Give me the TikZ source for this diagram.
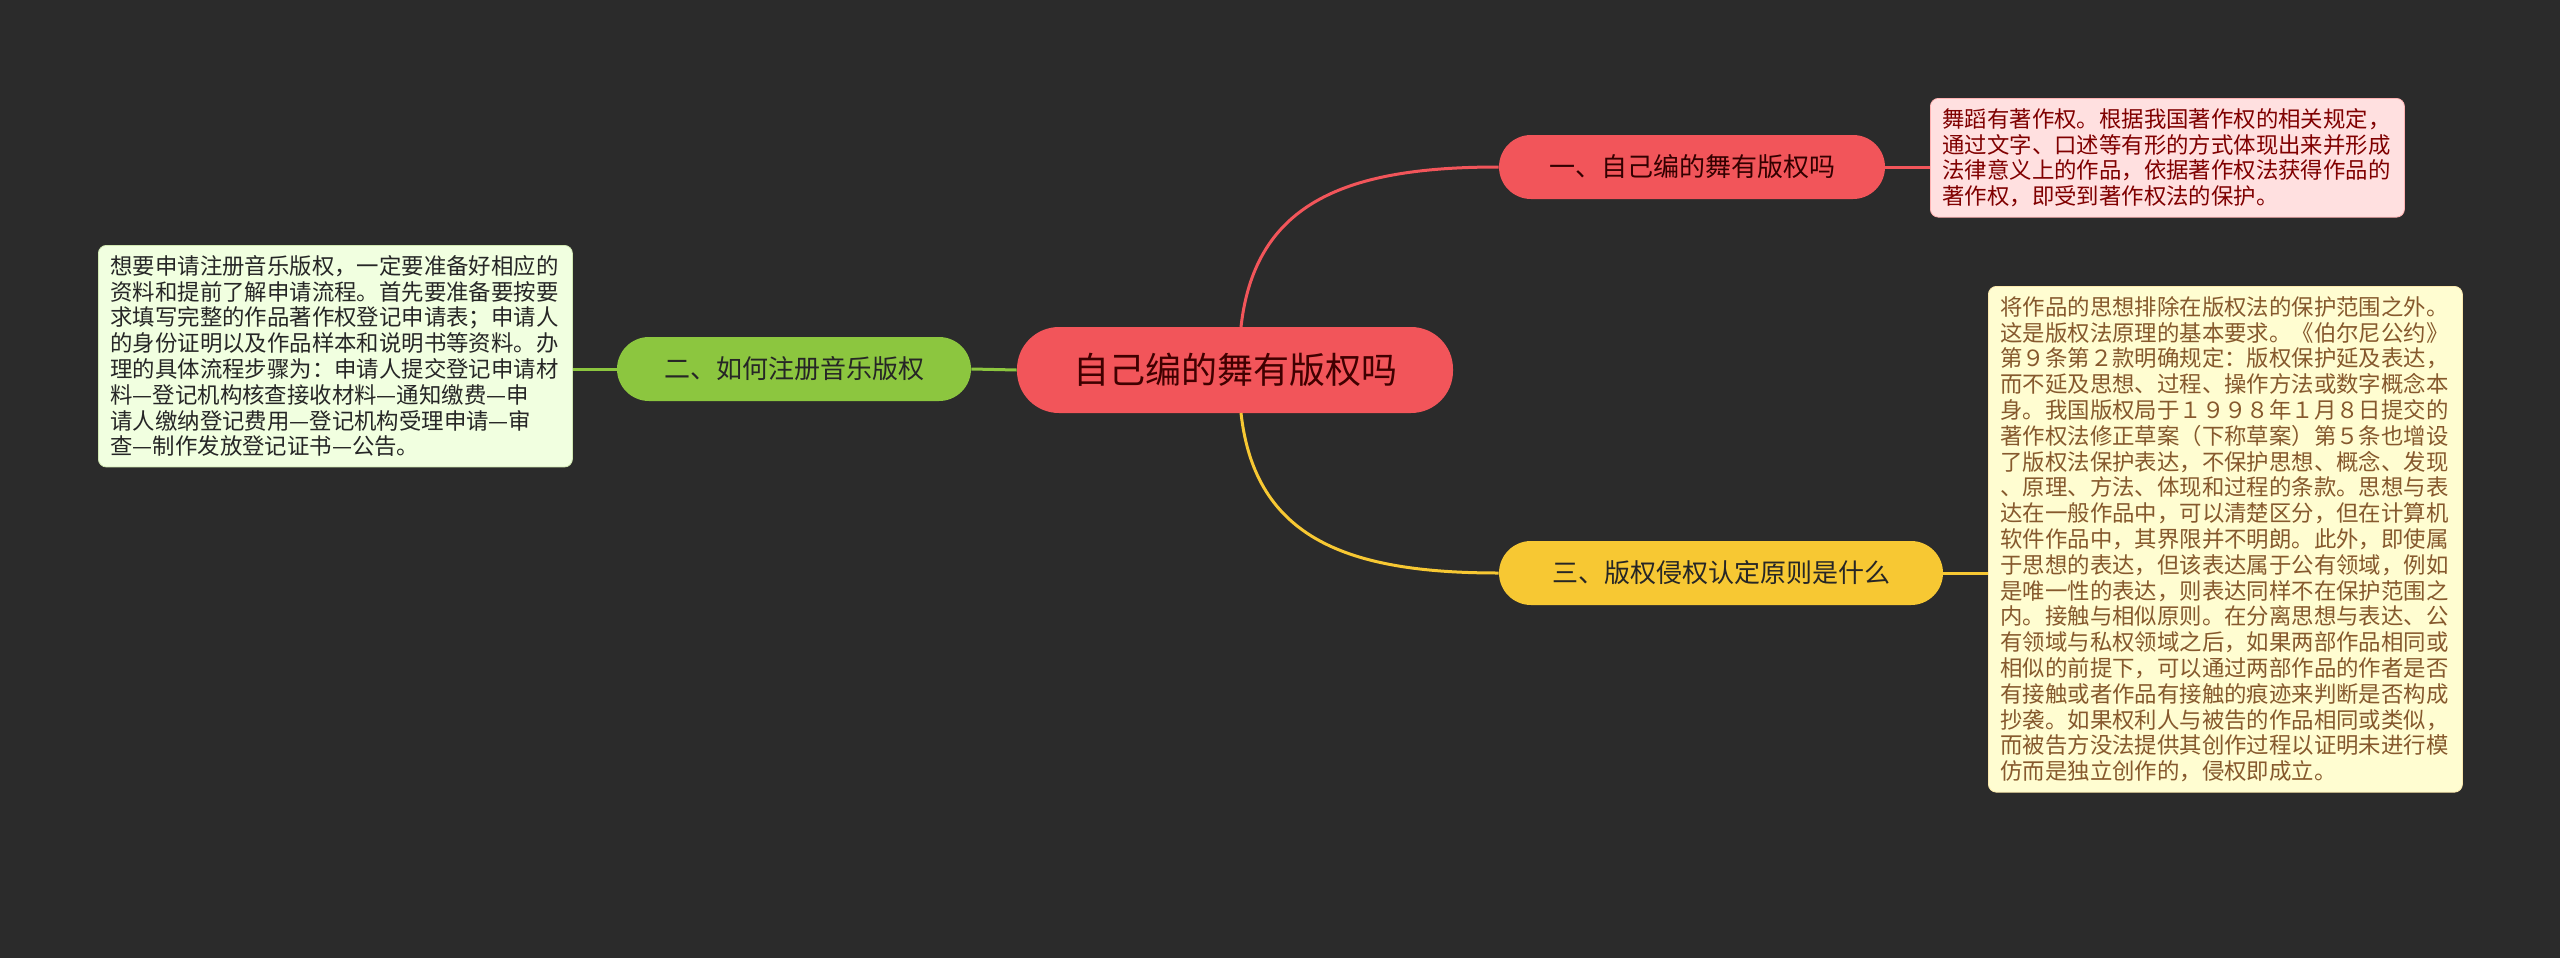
\documentclass[tikz,border=0pt]{standalone}
\usepackage{fontspec}
\setmainfont{Noto Sans CJK SC}
\begin{document}
\begin{tikzpicture}[x=0.5pt,y=-0.5pt,
  topic/.style={rounded corners=16pt,minimum height=32pt,inner xsep=12pt,font=\fontsize{13}{15}\selectfont},
  note/.style={rounded corners=4pt,align=left,inner xsep=6pt,inner ysep=5pt,font=\fontsize{11.2}{12.9}\selectfont,anchor=north west}]
\definecolor{bg}{HTML}{2B2B2B}
\definecolor{cred}{HTML}{F2555A}
\definecolor{cgreen}{HTML}{8CC63F}
\definecolor{cyel}{HTML}{F7C833}
\fill[bg] (0,0) rectangle (2560,958);
\node[fill=cred,rounded corners=21pt,minimum width=218pt,minimum height=43pt,font=\fontsize{18}{20}\selectfont,text=black!75!red] (c) at (1235,370) {自己编的舞有版权吗};
\node[topic,fill=cred,minimum width=193pt,text=black!80!red] (n1) at (1692,167) {一、自己编的舞有版权吗};
\node[topic,fill=cgreen,minimum width=177pt,text=black!85] (n2) at (794,369) {二、如何注册音乐版权};
\node[topic,fill=cyel,minimum width=222pt,text=black!85] (n3) at (1721,573) {三、版权侵权认定原则是什么};
\node[note,fill=red!12,draw=red!30,text=red!50!black,text width=225pt] (b1) at (1930,98) {舞蹈有著作权。根据我国著作权的相关规定，\\通过文字、口述等有形的方式体现出来并形成\\法律意义上的作品，依据著作权法获得作品的\\著作权，即受到著作权法的保护。};
\node[note,fill=green!45!yellow!12,draw=cgreen!40,text=black!85,text width=225pt] (b2) at (98,245) {想要申请注册音乐版权，一定要准备好相应的\\资料和提前了解申请流程。首先要准备要按要\\求填写完整的作品著作权登记申请表；申请人\\的身份证明以及作品样本和说明书等资料。办\\理的具体流程步骤为：申请人提交登记申请材\\料—登记机构核查接收材料—通知缴费—申\\请人缴纳登记费用—登记机构受理申请—审\\查—制作发放登记证书—公告。};
\node[note,fill=yellow!18,draw=cyel!40,text=brown!70!black,text width=225pt] (b3) at (1988,286) {将作品的思想排除在版权法的保护范围之外。\\这是版权法原理的基本要求。《伯尔尼公约》\\第９条第２款明确规定：版权保护延及表达，\\而不延及思想、过程、操作方法或数字概念本\\身。我国版权局于１９９８年１月８日提交的\\著作权法修正草案（下称草案）第５条也增设\\了版权法保护表达，不保护思想、概念、发现\\、原理、方法、体现和过程的条款。思想与表\\达在一般作品中，可以清楚区分，但在计算机\\软件作品中，其界限并不明朗。此外，即使属\\于思想的表达，但该表达属于公有领域，例如\\是唯一性的表达，则表达同样不在保护范围之\\内。接触与相似原则。在分离思想与表达、公\\有领域与私权领域之后，如果两部作品相同或\\相似的前提下，可以通过两部作品的作者是否\\有接触或者作品有接触的痕迹来判断是否构成\\抄袭。如果权利人与被告的作品相同或类似，\\而被告方没法提供其创作过程以证明未进行模\\仿而是独立创作的，侵权即成立。};
\coordinate (ct) at (1241,327);
\coordinate (cb) at (1241,413);
\draw[cred,line width=1.5pt] (ct) .. controls (1255,200) and (1350,167) .. (n1.west);
\draw[cyel,line width=1.5pt] (cb) .. controls (1255,540) and (1350,573) .. (n3.west);
\draw[cgreen,line width=1.5pt] (n2.east) -- (c.west);
\draw[cred,line width=1.5pt] (n1.east) -- (b1.west|-n1.east);
\draw[cgreen,line width=1.5pt] (b2.east|-n2.west) -- (n2.west);
\draw[cyel,line width=1.5pt] (n3.east) -- (b3.west|-n3.east);
\end{tikzpicture}
\end{document}
